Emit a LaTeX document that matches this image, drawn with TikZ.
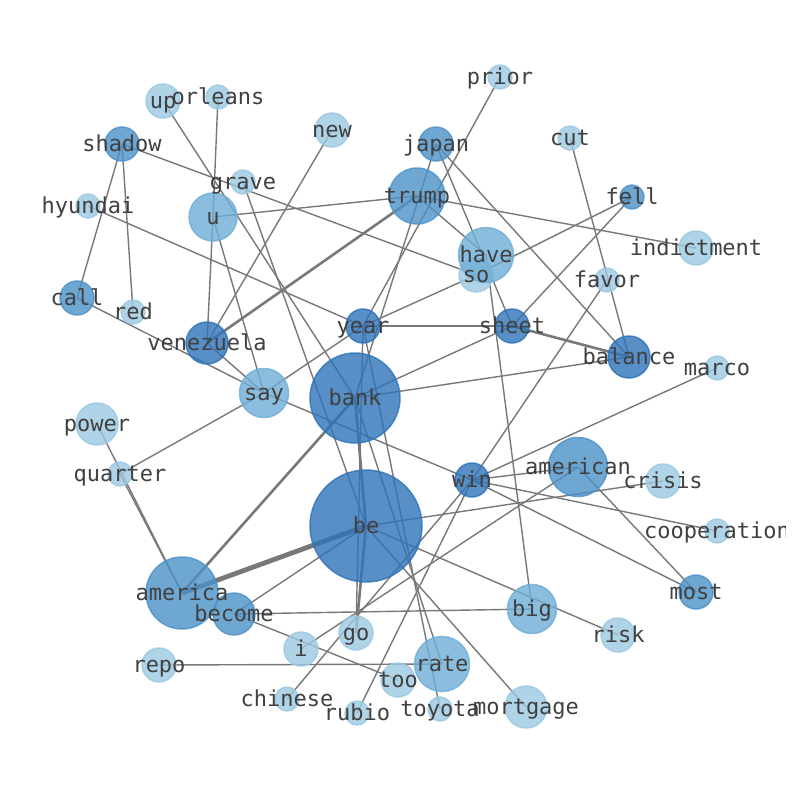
\documentclass[tikz,border=0pt]{standalone}
\usepackage{fontspec}
\newfontfamily\wordfont{DejaVu Sans Mono}
\usepackage{tikz}
\usetikzlibrary{backgrounds}
\definecolor{deepblue}{RGB}{46,115,184}
\definecolor{midblue}{RGB}{76,145,201}
\definecolor{softblue}{RGB}{111,174,214}
\definecolor{paleblue}{RGB}{156,200,225}
\definecolor{wordgray}{RGB}{64,64,64}
\definecolor{linkgray}{RGB}{120,120,120}
\tikzset{
    %Define style for word circles
    word/.style={
           circle,
           inner sep=0pt,
           line width=1.5pt,
           fill opacity=0.8,
           draw opacity=0.8},
    deep/.style={word, fill=deepblue, draw=deepblue},
    mid/.style={word, fill=midblue, draw=midblue},
    soft/.style={word, fill=softblue, draw=softblue},
    pale/.style={word, fill=paleblue, draw=paleblue},
    %Define style for the words
    wordtext/.style={
           font=\wordfont\fontsize{22}{22}\selectfont,
           text=wordgray,
           text height=18pt,
           text depth=3pt,
           inner sep=0pt},
    % Define link styles
    link/.style={draw=linkgray, line width=1.4pt},
    heavy/.style={link, line width=2.6pt},
    heaviest/.style={link, line width=4.8pt}
}
\begin{document}
\begin{tikzpicture}[x=1pt,y=-1pt]
\useasboundingbox (0,0) rectangle (794,790);
\clip (0,0) rectangle (785,790);

 %nodes
\node[pale, minimum size=24pt] (prior) at (500,77) {};
\node[pale, minimum size=34pt] (up) at (163,101) {};
\node[pale, minimum size=24pt] (orleans) at (218,97) {};
\node[mid, minimum size=34pt] (shadow) at (122,144) {};
\node[pale, minimum size=34pt] (new) at (332,130) {};
\node[mid, minimum size=34pt] (japan) at (436,144) {};
\node[pale, minimum size=24pt] (cut) at (570,138) {};
\node[pale, minimum size=24pt] (grave) at (243,182) {};
\node[mid, minimum size=56pt] (trump) at (417,196) {};
\node[mid, minimum size=24pt] (fell) at (632,197) {};
\node[pale, minimum size=24pt] (hyundai) at (88,206) {};
\node[soft, minimum size=48pt] (u) at (213,217) {};
\node[pale, minimum size=34pt] (indictment) at (696,248) {};
\node[pale, minimum size=34pt] (so) at (476,275) {};
\node[soft, minimum size=55pt] (have) at (486,255) {};
\node[pale, minimum size=24pt] (favor) at (607,280) {};
\node[mid, minimum size=34pt] (call) at (77,298) {};
\node[pale, minimum size=24pt] (red) at (133,312) {};
\node[deep, minimum size=34pt] (year) at (363,326) {};
\node[deep, minimum size=34pt] (sheet) at (512,326) {};
\node[deep, minimum size=42pt] (venezuela) at (207,343) {};
\node[deep, minimum size=42pt] (balance) at (629,357) {};
\node[pale, minimum size=24pt] (marco) at (717,368) {};
\node[soft, minimum size=49pt] (say) at (264,393) {};
\node[deep, minimum size=90pt] (bank) at (355,398) {};
\node[pale, minimum size=42pt] (power) at (97,424) {};
\node[pale, minimum size=24pt] (quarter) at (120,474) {};
\node[deep, minimum size=34pt] (win) at (472,480) {};
\node[mid, minimum size=59pt] (american) at (578,467) {};
\node[pale, minimum size=34pt] (crisis) at (663,481) {};
\node[pale, minimum size=24pt] (cooperation) at (717,531) {};
\node[deep, minimum size=112pt] (be) at (366,526) {};
\node[mid, minimum size=72pt] (america) at (182,593) {};
\node[mid, minimum size=34pt] (most) at (696,592) {};
\node[mid, minimum size=42pt] (become) at (234,614) {};
\node[soft, minimum size=49pt] (big) at (532,609) {};
\node[pale, minimum size=34pt] (risk) at (618,635) {};
\node[pale, minimum size=34pt] (go) at (356,633) {};
\node[pale, minimum size=34pt] (i) at (301,649) {};
\node[pale, minimum size=34pt] (repo) at (159,665) {};
\node[soft, minimum size=55pt] (rate) at (442,664) {};
\node[pale, minimum size=34pt] (too) at (398,680) {};
\node[pale, minimum size=24pt] (chinese) at (287,699) {};
\node[pale, minimum size=24pt] (rubio) at (357,713) {};
\node[pale, minimum size=24pt] (toyota) at (440,709) {};
\node[pale, minimum size=42pt] (mortgage) at (526,707) {};

 %words
\foreach \w in {prior,up,orleans,shadow,new,japan,cut,grave,trump,fell,
    hyundai,u,indictment,have,so,favor,call,red,year,sheet,venezuela,
    balance,marco,say,bank,power,quarter,win,american,crisis,cooperation,
    be,america,most,become,big,risk,go,i,repo,rate,too,chinese,rubio,
    toyota,mortgage}
    \node[wordtext] (\w-l) at (\w) {\w};

 %links
\begin{scope}[on background layer]
\fill[white] (0,0) rectangle (794,790);
\path[heaviest] (america.center) edge (be.center);
\path[heavy]
    (america.center) edge (bank.center)
    (venezuela.center) edge (trump.center)
    (sheet.center) edge (balance.center)
    (bank.center) edge (be.center)
    (be.center) edge (go.center);
\path[link]
    (power.center) edge (america.center)
    (quarter.center) edge (america.center)
    (quarter.center) edge (say.center)
    (call.center) edge (say.center)
    (venezuela.center) edge (say.center)
    (shadow.center) edge (call.center)
                    edge (red.center)
                    edge (so.center)
    (hyundai.center) edge (year.center)
    (up.center) edge (bank.center)
    (orleans.center) edge (u.center)
    (u.center) edge (venezuela.center)
               edge (say.center)
               edge (trump.center)
    (grave.center) edge (be.center)
    (new.center) edge (venezuela.center)
    (trump.center) edge (have.center)
                   edge (indictment.center)
    (japan.center) edge (sheet.center)
                   edge (balance.center)
                   edge (bank.center)
    (prior.center) edge (year.center)
    (cut.center) edge (balance.center)
    (fell.center) edge (so.center)
                  edge (sheet.center)
    (year.center) edge (so.center)
                  edge (say.center)
                  edge (sheet.center)
                  edge (go.center)
                  edge (toyota.center)
    (sheet.center) edge (bank.center)
    (balance.center) edge (bank.center)
    (have.center) edge (big.center)
    (bank.center) edge (rate.center)
    (win.center) edge (favor.center)
                 edge (marco.center)
                 edge (say.center)
                 edge (american.center)
                 edge (cooperation.center)
                 edge (most.center)
                 edge (chinese.center)
                 edge (rubio.center)
    (american.center) edge (most.center)
                      edge (i.center)
    (be.center) edge (crisis.center)
                edge (risk.center)
                edge (mortgage.center)
                edge (become.center)
    (become.center) edge (big.center)
                    edge (too.center)
    (repo.center) edge (rate.center);
\end{scope}
\end{tikzpicture}
\end{document}
